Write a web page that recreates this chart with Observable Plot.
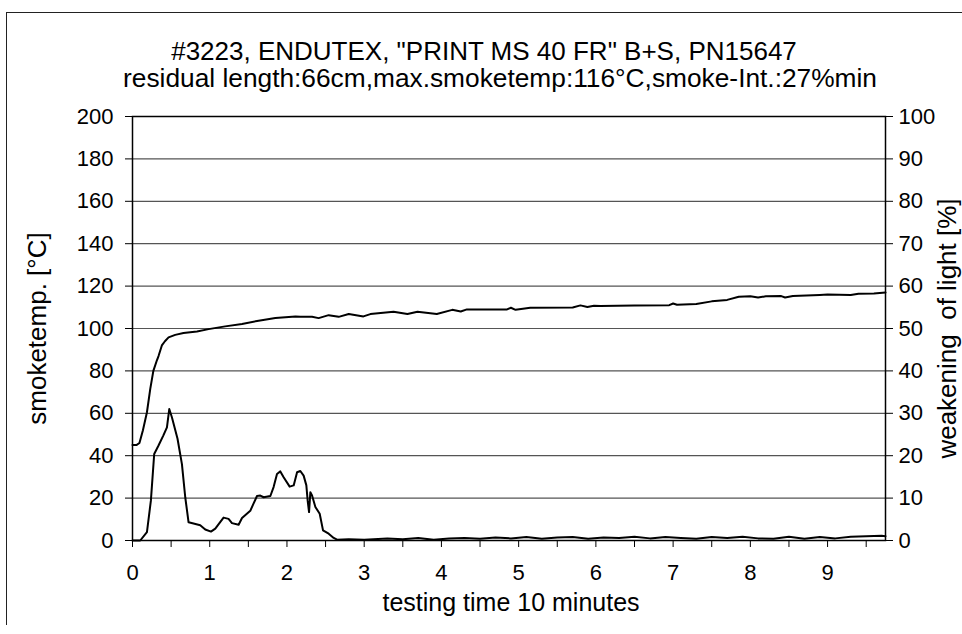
<!DOCTYPE html>
<html>
<head>
<meta charset="utf-8">
<script src="https://cdn.jsdelivr.net/npm/d3@7"></script>
<script src="https://cdn.jsdelivr.net/npm/@observablehq/plot@0.6"></script>
<style>
  html, body { margin: 0; padding: 0; background: #fff; }
  #wrap { position: relative; width: 962px; height: 634px; overflow: hidden; }
  #edge { position: absolute; left: 6px; top: 12px; width: 956px; height: 612px;
          border-top: 1px solid #222; border-left: 1px solid #222; pointer-events: none; }
  svg text { white-space: pre; }
</style>
</head>
<body>
<div id="wrap"><div id="edge"></div></div>
<script>
const titleText = "#3223, ENDUTEX, \"PRINT MS 40 FR\" B+S, PN15647";
const subtitleText = "residual length:66cm,max.smoketemp:116°C,smoke-Int.:27%min";
const xLabel = "testing time 10 minutes";
const yLabelLeft = "smoketemp. [°C]";
const yLabelRight = "weakening  of light [%]";

// smoke temperature [°C]
const tempMin = [0, 0.05, 0.09, 0.135, 0.187, 0.23, 0.27, 0.316, 0.337, 0.38, 0.42, 0.467, 0.553, 0.66, 0.835, 0.985,
  1.2, 1.418, 1.633, 1.85, 2.11, 2.173, 2.325, 2.41, 2.54, 2.67, 2.8, 2.99, 3.08, 3.38, 3.56, 3.69, 3.94,
  4.14, 4.25, 4.33, 4.85, 4.9, 4.96, 5.15, 5.7, 5.8, 5.89, 5.975, 6.06, 6.5, 6.95, 7.0, 7.05, 7.3, 7.5, 7.7,
  7.85, 8.0, 8.1, 8.2, 8.4, 8.45, 8.55, 8.9, 9.0, 9.3, 9.4, 9.6, 9.75];
const tempC = [45, 45, 46, 52, 60.5, 71.5, 80, 85, 87, 92, 94, 95.8, 97, 97.9, 98.6, 99.7,
  101, 102.1, 103.7, 104.9, 105.7, 105.5, 105.5, 104.9, 106.3, 105.5, 106.8, 105.7, 106.8, 107.9, 106.8, 107.9, 106.8,
  108.8, 108, 109, 109, 109.8, 108.8, 109.8, 109.9, 110.9, 110.1, 110.7, 110.6, 110.9, 111, 111.8, 111.2, 111.6, 112.8, 113.5,
  115, 115.2, 114.6, 115.2, 115.3, 114.6, 115.3, 115.8, 116, 115.8, 116.4, 116.5, 117];

// weakening of light [%]
const lightMin = [0, 0.1, 0.187, 0.238, 0.281, 0.337, 0.4, 0.446, 0.476, 0.511, 0.583, 0.64, 0.683, 0.726, 0.79, 0.877,
  0.942, 1.016, 1.072, 1.179, 1.244, 1.288, 1.374, 1.418, 1.525, 1.612, 1.655, 1.698, 1.785, 1.827, 1.871, 1.914,
  1.957, 2.035, 2.087, 2.131, 2.173, 2.216, 2.251, 2.268, 2.286, 2.303, 2.325, 2.368, 2.424, 2.467, 2.54, 2.605, 2.649,
  2.8, 3.0, 3.3, 3.5, 3.7, 3.9, 4.1, 4.3, 4.5, 4.7, 4.9, 5.1, 5.3, 5.5, 5.7, 5.9, 6.1, 6.3, 6.5, 6.7, 6.9,
  7.1, 7.3, 7.5, 7.7, 7.9, 8.1, 8.3, 8.5, 8.7, 8.9, 9.1, 9.3, 9.5, 9.7, 9.75];
const lightPct = [0, 0, 2, 9.4, 20.4, 22.4, 24.8, 26.7, 31, 29, 24, 18, 10.2, 4.3, 4, 3.6,
  2.6, 2.1, 2.8, 5.4, 5.1, 4.1, 3.7, 5.3, 7, 10.5, 10.6, 10.2, 10.5, 12.6, 15.7, 16.3,
  14.9, 12.7, 13, 16.1, 16.4, 15.3, 13, 9.4, 6.7, 11.4, 10.6, 7.9, 6.3, 2.4, 1.6, 0.6, 0.2,
  0.3, 0.2, 0.5, 0.3, 0.6, 0.2, 0.5, 0.6, 0.4, 0.7, 0.5, 0.8, 0.4, 0.7, 0.8, 0.4, 0.7, 0.6, 0.9, 0.5, 0.8,
  0.6, 0.4, 0.8, 0.6, 0.9, 0.5, 0.4, 0.9, 0.4, 0.8, 0.5, 0.9, 1.0, 1.1, 1.0];

const xTicks = [0, 0.5, 1, 1.5, 2, 2.5, 3, 3.5, 4, 4.5, 5, 5.5, 6, 6.5, 7, 7.5, 8, 8.5, 9, 9.5];
const yTicksLeft = [0, 20, 40, 60, 80, 100, 120, 140, 160, 180, 200];
const yTicksRight = [0, 10, 20, 30, 40, 50, 60, 70, 80, 90, 100];

const tempData = tempMin.map((m, i) => ({m, v: tempC[i]}));
// light is drawn on the left scale (0–200 ↔ 0–100 %)
const lightData = lightMin.map((m, i) => ({m, v: lightPct[i] * 2}));

const chart = Plot.plot({
  width: 962,
  height: 634,
  marginLeft: 132,
  marginRight: 77,
  marginTop: 116,
  marginBottom: 94,
  x: {domain: [0, 9.75]},
  y: {domain: [0, 200]},
  style: {fontFamily: "'Liberation Sans', Arial, sans-serif", fontSize: "22px", color: "#000", background: "#fff"},
  marks: [
    Plot.ruleY(yTicksLeft.slice(1, -1), {stroke: "#555", strokeWidth: 1.2}),
    Plot.frame({stroke: "#000", strokeWidth: 1.5}),
    Plot.axisX({ticks: xTicks, tickSize: 7, tickPadding: 17, label: null,
      tickFormat: d => Number.isInteger(d) ? String(d) : ""}),
    Plot.axisY({ticks: yTicksLeft, anchor: "left", tickSize: 7, tickPadding: 12, label: null}),
    Plot.axisY({ticks: yTicksRight.map(d => d * 2), anchor: "right", tickSize: 7, tickPadding: 6, label: null,
      tickFormat: d => String(d / 2)}),
    Plot.line(tempData, {x: "m", y: "v", stroke: "#000", strokeWidth: 2}),
    Plot.line(lightData, {x: "m", y: "v", stroke: "#000", strokeWidth: 2}),
    Plot.text([titleText], {frameAnchor: "top", dx: -25, dy: -75, fontSize: 26}),
    Plot.text([subtitleText], {frameAnchor: "top", dx: -9, dy: -48, fontSize: 26.3}),
    Plot.text([xLabel], {frameAnchor: "bottom", dx: 2, dy: 70, fontSize: 25}),
    Plot.text([yLabelLeft], {frameAnchor: "left", textAnchor: "middle", dx: -95, rotate: -90, fontSize: 26}),
    Plot.text([yLabelRight], {frameAnchor: "right", textAnchor: "middle", dx: 62, rotate: -90, fontSize: 26})
  ]
});
document.getElementById("wrap").prepend(chart);
</script>
</body>
</html>
